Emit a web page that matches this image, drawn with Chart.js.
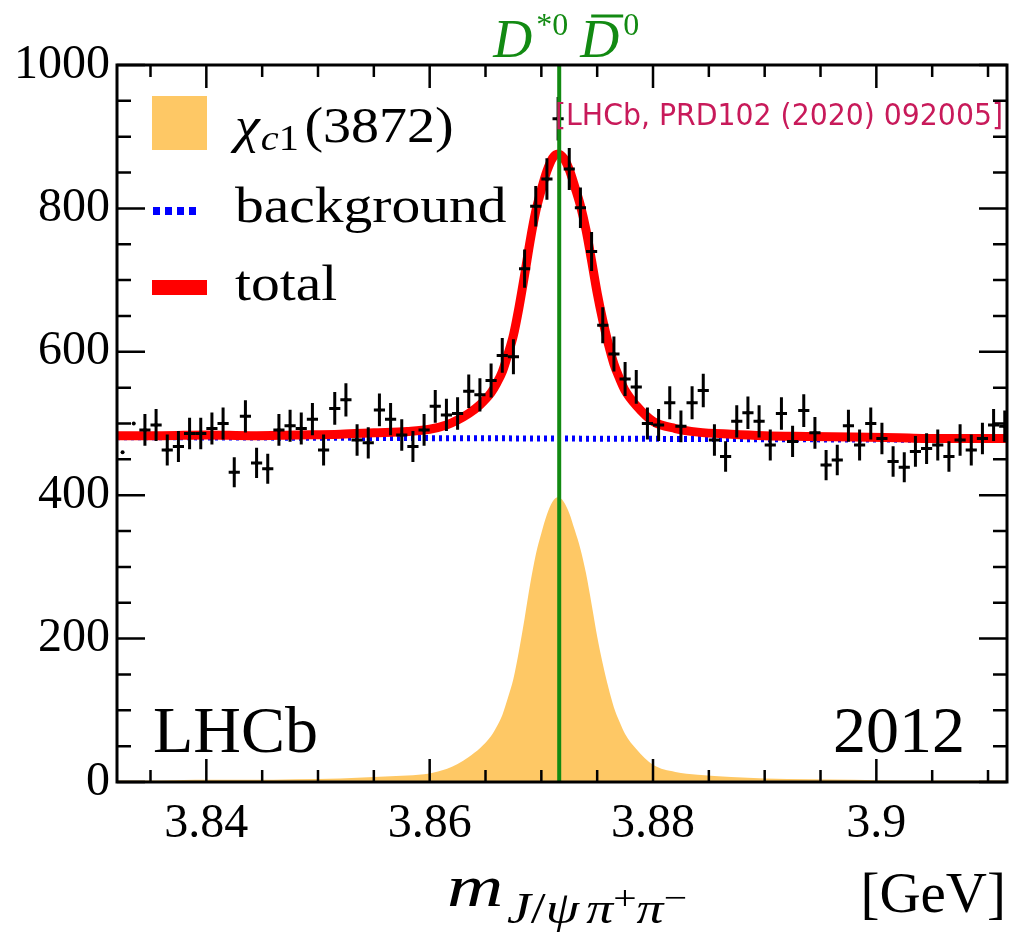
<!DOCTYPE html>
<html>
<head>
<meta charset="utf-8">
<title>chi_c1(3872) mass fit, LHCb 2012</title>
<script src="https://cdn.jsdelivr.net/npm/chart.js@4.4.0/dist/chart.umd.min.js"></script>
<style>
  html, body { margin: 0; padding: 0; background: #fff; }
  #wrap { width: 1015px; height: 933px; }
</style>
</head>
<body>
<div id="wrap"><canvas id="fit" width="1015" height="933"></canvas></div>
<script>
// histogram: 1 MeV bins starting at 3.832 GeV
const binStart = 3.832;
const binWidth = 0.001;
const counts = [
  460, 500, 491, 498, 463, 468, 486, 486, 493, 500,
  432, 510, 445, 437, 491, 497, 493, 506, 463, 521,
  533, 477, 473, 519, 506, 484, 468, 491, 524, 512,
  514, 545, 540, 560, 595, 593, 716, 803, 841, 925,
  855, 801, 740, 637, 597, 562, 551, 500, 498, 529,
  496, 529, 546, 477, 454, 503, 515, 503, 470, 514,
  475, 518, 487, 442, 449, 497, 470, 500, 479, 447,
  439, 461, 465, 470, 454, 477, 463, 479, 498, 496
];
// the two lowest bins show only a marker in the original
const barlessBins = 2;

// fit components at these masses (GeV)
const curveMass = [
  3.832, 3.836, 3.840, 3.844, 3.848, 3.852, 3.855, 3.858, 3.860, 3.8615,
  3.8625, 3.8635, 3.8645, 3.8655, 3.866, 3.8665, 3.867, 3.8675, 3.868, 3.8685,
  3.869, 3.8695, 3.870, 3.8705, 3.871, 3.8715, 3.872, 3.8725, 3.873, 3.8735,
  3.874, 3.8745, 3.875, 3.8755, 3.876, 3.8765, 3.877, 3.8775, 3.8785, 3.880,
  3.882, 3.884, 3.887, 3.890, 3.894, 3.898, 3.902, 3.906, 3.9117
];
const signalCurve = [
  2, 2, 3, 3, 4, 5, 7, 9, 12, 18,
  25, 35, 47, 64, 77, 93, 117, 144, 183, 228,
  276, 317, 347, 373, 391, 397, 391, 375, 351, 325,
  291, 248, 203, 165, 132, 104, 84, 67, 46, 24,
  14, 10, 7, 5, 4, 3, 2, 2, 2
];
const backgroundCurve = [
  481.0, 480.8, 480.6, 480.4, 480.2, 480.0, 479.9, 479.7, 479.6, 479.5,
  479.5, 479.4, 479.4, 479.3, 479.3, 479.3, 479.3, 479.2, 479.2, 479.2,
  479.2, 479.1, 479.1, 479.1, 479.1, 479.0, 479.0, 479.0, 479.0, 478.9,
  478.9, 478.9, 478.9, 478.8, 478.8, 478.8, 478.8, 478.7, 478.7, 478.6,
  478.5, 478.4, 478.3, 478.1, 477.9, 477.7, 477.5, 477.3, 477.0
];
const totalCurve = [
  483, 483, 484, 483, 484, 485, 487, 489, 492, 498,
  505, 514, 526, 543, 556, 572, 596, 623, 662, 707,
  755, 796, 826, 852, 870, 876, 870, 854, 830, 804,
  770, 727, 682, 644, 611, 583, 563, 546, 525, 503,
  493, 488, 485, 483, 482, 481, 480, 479, 479
];

// D*0 D0bar threshold
const thresholdMass = 3.8716;

const xMin = 3.832, xMax = 3.9117;
const xTicks = [3.84, 3.86, 3.88, 3.90];
const xTickLabels = ['3.84', '3.86', '3.88', '3.9'];
const yTicks = [0, 200, 400, 600, 800, 1000];
const yTickLabels = ['0', '200', '400', '600', '800', '1000'];

const SERIF = '"Liberation Serif", "Times New Roman", serif';
const ORANGE = '#fec865';
const GREEN = '#128a12';

Chart.defaults.font.family = SERIF;
Chart.defaults.color = '#000';

const points = counts.map((c, i) => ({ x: binStart + (i + 0.5) * binWidth, y: c }));
const curve = ys => curveMass.map((m, i) => ({ x: m, y: ys[i] }));

function drawRun(ctx, x, y, parts, sx) {
  ctx.save();
  ctx.translate(x, y);
  ctx.scale(sx || 1, 1);
  let cx = 0;
  for (const p of parts) {
    ctx.font = p.font;
    ctx.fillText(p.t, cx, p.dy || 0);
    cx += ctx.measureText(p.t).width + (p.gap || 0);
  }
  ctx.restore();
  return cx * (sx || 1);
}

const rootStyle = {
  id: 'rootStyle',
  afterDatasetsDraw(chart) {
    const { ctx, chartArea: a, scales: { x, y } } = chart;

    // error bars
    ctx.save();
    ctx.beginPath();
    ctx.rect(a.left, a.top, a.right - a.left, a.bottom - a.top);
    ctx.clip();
    ctx.strokeStyle = '#000';
    ctx.lineWidth = 3;
    counts.forEach((c, i) => {
      if (i < barlessBins) return;
      const m = binStart + (i + 0.5) * binWidth;
      const e = Math.sqrt(c);
      const px = x.getPixelForValue(m), py = y.getPixelForValue(c);
      ctx.beginPath();
      ctx.moveTo(px, y.getPixelForValue(c - e));
      ctx.lineTo(px, y.getPixelForValue(c + e));
      ctx.moveTo(x.getPixelForValue(m - binWidth / 2), py);
      ctx.lineTo(x.getPixelForValue(m + binWidth / 2), py);
      ctx.stroke();
    });
    ctx.restore();

    // threshold line
    const gx = x.getPixelForValue(thresholdMass);
    ctx.save();
    ctx.strokeStyle = GREEN;
    ctx.lineWidth = 4;
    ctx.beginPath();
    ctx.moveTo(gx, a.top);
    ctx.lineTo(gx, a.bottom);
    ctx.stroke();

    // frame and ticks
    ctx.strokeStyle = '#000';
    ctx.lineWidth = 3;
    ctx.strokeRect(a.left, a.top, a.right - a.left, a.bottom - a.top);
    ctx.lineWidth = 2.5;
    ctx.beginPath();
    for (let v = 0; v <= 1000; v += 50) {
      const len = v % 200 === 0 ? 28 : 14;
      const py = y.getPixelForValue(v);
      ctx.moveTo(a.left, py); ctx.lineTo(a.left + len, py);
      ctx.moveTo(a.right, py); ctx.lineTo(a.right - len, py);
    }
    for (let k = Math.ceil(xMin / 0.005); k * 0.005 <= xMax; k++) {
      const v = k * 0.005;
      const major = Math.abs(v / 0.02 - Math.round(v / 0.02)) < 1e-6;
      const len = major ? 23 : 12;
      const px = x.getPixelForValue(v);
      ctx.moveTo(px, a.bottom); ctx.lineTo(px, a.bottom - len);
      ctx.moveTo(px, a.top); ctx.lineTo(px, a.top + len);
    }
    ctx.stroke();
    ctx.restore();
  },
  afterDraw(chart) {
    const { ctx, chartArea: a, scales: { x } } = chart;
    ctx.save();
    ctx.textBaseline = 'alphabetic';
    ctx.textAlign = 'left';

    // legend
    const lx = a.left + 35;
    const tx = a.left + 118;
    ctx.fillStyle = ORANGE;
    ctx.fillRect(lx, a.top + 31, 55, 54);
    ctx.fillStyle = '#000';
    drawRun(ctx, tx, a.top + 77, [
      { t: 'χ', font: 'italic 50px ' + SERIF, gap: 1 },
      { t: 'c', font: 'italic 36px ' + SERIF, dy: 8 },
      { t: '1', font: '36px ' + SERIF, dy: 8, gap: 5 },
      { t: '(3872)', font: '50px ' + SERIF }
    ], 1.12);

    ctx.save();
    ctx.strokeStyle = '#0000ff';
    ctx.lineWidth = 8;
    ctx.setLineDash([7, 5]);
    ctx.beginPath();
    ctx.moveTo(lx + 1, a.top + 146);
    ctx.lineTo(lx + 48, a.top + 146);
    ctx.stroke();
    ctx.restore();
    drawRun(ctx, tx, a.top + 157, [{ t: 'background', font: '50px ' + SERIF }], 1.15);

    ctx.fillStyle = '#ff0000';
    ctx.fillRect(lx, a.top + 215, 55, 15);
    ctx.fillStyle = '#000';
    drawRun(ctx, tx, a.top + 235, [{ t: 'total', font: '50px ' + SERIF }], 1.15);

    // experiment and year
    ctx.font = '66px ' + SERIF;
    ctx.fillText('LHCb', a.left + 36, a.bottom - 30);
    ctx.textAlign = 'right';
    ctx.fillText('2012', a.right - 42, a.bottom - 30);
    ctx.textAlign = 'left';

    // reference tag
    ctx.fillStyle = '#c81a5a';
    ctx.font = '31px "DejaVu Sans", sans-serif';
    const tag = '[LHCb, PRD102 (2020) 092005]';
    const tagW = ctx.measureText(tag).width;
    ctx.save();
    ctx.translate(a.left + 438, a.top + 60);
    ctx.scale(448 / tagW, 1);
    ctx.fillText(tag, 0, 0);
    ctx.restore();

    // threshold label
    const gx = x.getPixelForValue(thresholdMass);
    ctx.fillStyle = GREEN;
    ctx.strokeStyle = GREEN;
    const base = a.top - 8;
    let cx = gx - 66;
    ctx.font = 'italic 54px ' + SERIF;
    ctx.fillText('D', cx, base);
    cx += ctx.measureText('D').width + 4;
    ctx.font = '32px ' + SERIF;
    ctx.fillText('*0', cx, base - 22);
    cx += ctx.measureText('*0').width + 12;
    ctx.font = 'italic 54px ' + SERIF;
    const dW = ctx.measureText('D').width;
    ctx.fillText('D', cx, base);
    ctx.lineWidth = 3;
    ctx.beginPath();
    ctx.moveTo(cx + 11, base - 41);
    ctx.lineTo(cx + dW + 4, base - 41);
    ctx.stroke();
    cx += dW + 4;
    ctx.font = '32px ' + SERIF;
    ctx.fillText('0', cx, base - 22);

    // axis title
    ctx.fillStyle = '#000';
    const mw = drawRun(ctx, a.left + 330, a.bottom + 124, [
      { t: 'm', font: 'italic 60px ' + SERIF, gap: 2 }
    ], 1.3);
    drawRun(ctx, a.left + 331 + mw, a.bottom + 141, [
      { t: 'J', font: 'italic 44px ' + SERIF },
      { t: '/', font: '44px ' + SERIF },
      { t: 'ψ', font: 'italic 44px ' + SERIF, gap: 6 },
      { t: 'π', font: 'italic 44px ' + SERIF },
      { t: '+', font: '34px ' + SERIF, dy: -14 },
      { t: 'π', font: 'italic 44px ' + SERIF },
      { t: '−', font: '34px ' + SERIF, dy: -14 }
    ], 1.22);
    ctx.textAlign = 'right';
    ctx.font = '57px ' + SERIF;
    ctx.fillText('[GeV]', a.right - 1, a.bottom + 130);
    ctx.restore();
  }
};

new Chart(document.getElementById('fit'), {
  type: 'scatter',
  data: {
    datasets: [
      {
        type: 'line', label: 'χc1(3872)', data: curve(signalCurve),
        fill: 'origin', backgroundColor: ORANGE, borderWidth: 0,
        pointRadius: 0, cubicInterpolationMode: 'monotone', order: 4
      },
      {
        type: 'line', label: 'background', data: curve(backgroundCurve),
        fill: false, borderColor: '#0000ff', borderWidth: 6, borderDash: [3, 4],
        pointRadius: 0, order: 3
      },
      {
        type: 'line', label: 'total', data: curve(totalCurve),
        fill: false, borderColor: '#ff0000', borderWidth: 9,
        pointRadius: 0, cubicInterpolationMode: 'monotone', order: 2
      },
      {
        label: 'data', data: points,
        pointRadius: 2, pointBackgroundColor: '#000', pointBorderWidth: 0, order: 1
      }
    ]
  },
  options: {
    responsive: false,
    animation: false,
    devicePixelRatio: 1,
    layout: { padding: { top: 65, right: 8, left: 0, bottom: 0 } },
    plugins: { legend: { display: false }, tooltip: { enabled: false } },
    scales: {
      x: {
        type: 'linear', min: xMin, max: xMax,
        grid: { display: false, drawTicks: false },
        border: { display: false },
        afterBuildTicks: s => { s.ticks = xTicks.map(v => ({ value: v })); },
        afterFit: s => { s.height = 151; },
        ticks: {
          font: { size: 48 }, color: '#000', padding: 14,
          maxRotation: 0, autoSkip: false,
          callback: (v, i) => xTickLabels[i]
        }
      },
      y: {
        min: 0, max: 1000,
        grid: { display: false, drawTicks: false },
        border: { display: false },
        afterBuildTicks: s => { s.ticks = yTicks.map(v => ({ value: v })); },
        afterFit: s => { s.width = 117; },
        ticks: {
          font: { size: 48 }, color: '#000', padding: 7,
          callback: (v, i) => yTickLabels[i]
        }
      }
    }
  },
  plugins: [rootStyle]
});
</script>
</body>
</html>
